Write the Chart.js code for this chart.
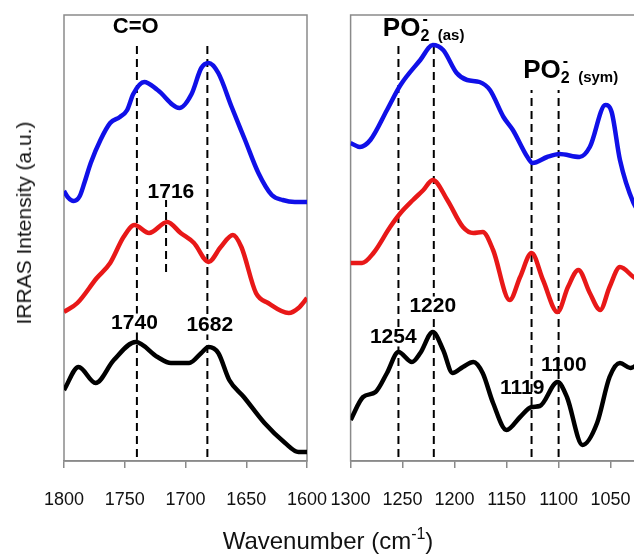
<!DOCTYPE html>
<html>
<head>
<meta charset="utf-8">
<script src="https://cdn.jsdelivr.net/npm/chart.js@4.4.1/dist/chart.umd.min.js"></script>
<style>
  html, body { margin: 0; padding: 0; background: #fff; }
  body { width: 634px; height: 556px; position: relative; overflow: hidden; font-family: 'Liberation Sans', Arial, sans-serif; }
  canvas { position: absolute; top: 0; }
  #left { left: 0; }
  #right { left: 300px; }
  .ylabel { position: absolute; left: 24px; top: 223px; transform: translate(-50%, -50%) rotate(-90deg); font-size: 21px; white-space: nowrap; color: #111; }
  .xlabel { position: absolute; left: 328px; top: 541px; transform: translate(-50%, -50%); font-size: 24px; white-space: nowrap; color: #111; }
  .xlabel sup { font-size: 16px; vertical-align: 10px; line-height: 0; }
</style>
</head>
<body>
<canvas id="left" width="352" height="556"></canvas>
<canvas id="right" width="408" height="556"></canvas>
<div class="ylabel">IRRAS Intensity (a.u.)</div>
<div class="xlabel">Wavenumber (cm<sup>-1</sup>)</div>
<script>
// wavenumbers (cm-1) and intensities (a.u.)
const leftBlueX = [1800, 1797, 1792, 1787, 1783, 1778, 1770, 1762, 1754, 1748, 1743, 1734, 1723, 1705, 1695, 1687, 1681, 1673, 1662, 1651, 1640, 1629, 1620, 1610, 1600]
const leftBlueY = [270, 264, 260, 265, 279, 298, 321, 338, 344, 351, 367, 379, 371, 353, 367, 393, 398, 388, 354, 321, 288, 266, 261, 259, 259]
const leftRedX = [1800, 1789, 1773, 1762, 1751, 1742, 1730, 1715, 1704, 1693, 1681, 1671, 1661, 1654, 1642, 1632, 1615, 1607, 1600]
const leftRedY = [149, 158, 183, 198, 224, 236, 228, 239, 228, 218, 199, 214, 226, 214, 168, 158, 148, 153, 163]
const leftBlackX = [1800, 1788, 1774, 1759, 1741, 1723, 1712, 1697, 1687, 1681, 1673, 1664, 1652, 1635, 1618, 1607, 1600]
const leftBlackY = [71, 94, 78, 101, 119, 104, 98, 98, 108, 114, 108, 81, 64, 38, 18, 9, 9]

const rightBlueX = [1300, 1291, 1281, 1265, 1252, 1233, 1221, 1211, 1198, 1188, 1176, 1166, 1153, 1144, 1130, 1125, 1111, 1099, 1080, 1070, 1055, 1049, 1041, 1028, 1022]
const rightBlueY = [318, 314, 321, 351, 376, 401, 416, 411, 388, 381, 379, 371, 344, 331, 304, 298, 304, 307, 304, 314, 356, 349, 301, 258, 248]
const rightRedX = [1300, 1289, 1278, 1262, 1252, 1240, 1230, 1221, 1207, 1192, 1182, 1173, 1163, 1147, 1137, 1126, 1115, 1101, 1091, 1081, 1070, 1060, 1051, 1041, 1028, 1022]
const rightRedY = [198, 198, 208, 234, 248, 261, 271, 281, 261, 234, 228, 229, 211, 161, 184, 208, 181, 149, 174, 191, 168, 151, 174, 194, 184, 180]
const rightBlackX = [1300, 1288, 1276, 1265, 1254, 1241, 1233, 1221, 1211, 1202, 1192, 1182, 1173, 1163, 1150, 1137, 1126, 1118, 1101, 1092, 1077, 1063, 1051, 1041, 1031, 1022]
const rightBlackY = [41, 64, 69, 88, 109, 99, 108, 129, 111, 88, 94, 99, 88, 58, 31, 44, 54, 55, 79, 64, 16, 38, 84, 98, 93, 98]

const leftTicks = [1800, 1750, 1700, 1650, 1600]
const rightTicks = [1300, 1250, 1200, 1150, 1100, 1050, 1000]

// dashed marker lines: wavenumber, from, to (a.u.)
const leftMarkers = [[1740, 4, 416], [1682, 4, 416], [1716, 189, 261]]
const rightMarkers = [[1254, 4, 416], [1220, 4, 418], [1126, 4, 371], [1100, 4, 371]]

const FONT = '"Liberation Sans", Arial, sans-serif'

const toPts = (xs, ys) => xs.map((x, i) => ({ x, y: ys[i] }))

function curve(xs, ys, color) {
  return {
    data: toPts(xs, ys),
    borderColor: color,
    borderWidth: 4.5,
    pointRadius: 0,
    cubicInterpolationMode: 'monotone',
    order: 0
  }
}

function marker([x, y0, y1]) {
  return {
    data: [{ x, y: y0 }, { x, y: y1 }],
    borderColor: '#000',
    borderWidth: 2,
    borderDash: [8, 5],
    pointRadius: 0,
    tension: 0,
    order: 1
  }
}

const framePlugin = {
  id: 'frame',
  beforeDatasetsDraw(chart) {
    const { ctx, chartArea: a } = chart
    ctx.save()
    ctx.strokeStyle = '#8a8a8a'
    ctx.lineWidth = 1.5
    ctx.strokeRect(a.left, a.top, a.right - a.left, a.bottom - a.top)
    ctx.restore()
  }
}

// text annotations placed at data coordinates
const notesPlugin = {
  id: 'notes',
  afterDatasetsDraw(chart, args, opts) {
    const { ctx } = chart
    const sx = chart.scales.x, sy = chart.scales.y
    ctx.save()
    ctx.fillStyle = '#000'
    for (const n of opts.items || []) {
      const px = sx.getPixelForValue(n.x)
      const py = sy.getPixelForValue(n.y)
      if (n.parts) {
        let cx = px
        ctx.textAlign = 'left'
        ctx.textBaseline = 'alphabetic'
        for (const p of n.parts) {
          ctx.font = 'bold ' + p.f + 'px ' + FONT
          cx += p.dx || 0
          ctx.fillText(p.t, cx, py + (p.dy || 0))
          if (!p.stay) cx += ctx.measureText(p.t).width
        }
      } else {
        ctx.font = 'bold ' + n.f + 'px ' + FONT
        ctx.textAlign = 'center'
        ctx.textBaseline = 'middle'
        if (n.bg) {
          const w = ctx.measureText(n.text).width
          ctx.fillStyle = '#fff'
          ctx.fillRect(px - w / 2 - 1, py - n.f * 0.45, w + 2, n.f * 0.9)
          ctx.fillStyle = '#000'
        }
        ctx.fillText(n.text, px, py)
      }
    }
    ctx.restore()
  }
}

function options(min, max, ticks, padding, notes) {
  return {
    responsive: false,
    animation: false,
    layout: { padding },
    plugins: {
      legend: { display: false },
      tooltip: { enabled: false },
      notes: { items: notes }
    },
    scales: {
      x: {
        type: 'linear',
        min, max,
        reverse: true,
        afterBuildTicks: s => { s.ticks = ticks.map(v => ({ value: v })) },
        afterFit: s => { s.height = 95 },
        grid: { drawOnChartArea: false, color: '#8a8a8a', lineWidth: 1.5, tickLength: 7 },
        border: { color: '#8a8a8a', width: 1.5 },
        ticks: {
          autoSkip: false, maxRotation: 0, padding: 21, color: '#111',
          font: { family: FONT, size: 18 },
          callback: v => String(v)
        }
      },
      y: { display: false, min: 0, max: 446 }
    }
  }
}

const leftNotes = [
  { text: 'C=O', x: 1741, y: 434, f: 22 },
  { text: '1716', x: 1712, y: 269, f: 21 },
  { text: '1740', x: 1742, y: 138, f: 21, bg: true },
  { text: '1682', x: 1680, y: 136, f: 21, bg: true }
]

const rightNotes = [
  { x: 1269, y: 425, parts: [{ t: 'PO', f: 26 }, { t: '2', f: 16, dy: 5, stay: true }, { t: '-', f: 16, dy: -12, dx: 2 }, { t: '(as)', f: 15, dy: 4, dx: 10 }] },
  { x: 1134, y: 383, parts: [{ t: 'PO', f: 26 }, { t: '2', f: 16, dy: 5, stay: true }, { t: '-', f: 16, dy: -12, dx: 2 }, { t: '(sym)', f: 15, dy: 4, dx: 10 }] },
  { text: '1254', x: 1259, y: 124, f: 21, bg: true },
  { text: '1220', x: 1221, y: 155, f: 21, bg: true },
  { text: '1119', x: 1135, y: 73, f: 21 },
  { text: '1100', x: 1095, y: 96, f: 21 }
]

new Chart(document.getElementById('left'), {
  type: 'line',
  data: {
    datasets: [
      curve(leftBlueX, leftBlueY, '#1010e8'),
      curve(leftRedX, leftRedY, '#e81818'),
      curve(leftBlackX, leftBlackY, '#000'),
      ...leftMarkers.map(marker)
    ]
  },
  options: options(1600, 1800, leftTicks, { left: 64, right: 45, top: 15, bottom: 0 }, leftNotes),
  plugins: [framePlugin, notesPlugin]
})

new Chart(document.getElementById('right'), {
  type: 'line',
  data: {
    datasets: [
      curve(rightBlueX, rightBlueY, '#1010e8'),
      curve(rightRedX, rightRedY, '#e81818'),
      curve(rightBlackX, rightBlackY, '#000'),
      ...rightMarkers.map(marker)
    ]
  },
  options: options(1000, 1300, rightTicks, { left: 50.6, right: 45.4, top: 15, bottom: 0 }, rightNotes),
  plugins: [framePlugin, notesPlugin]
})
</script>
</body>
</html>
